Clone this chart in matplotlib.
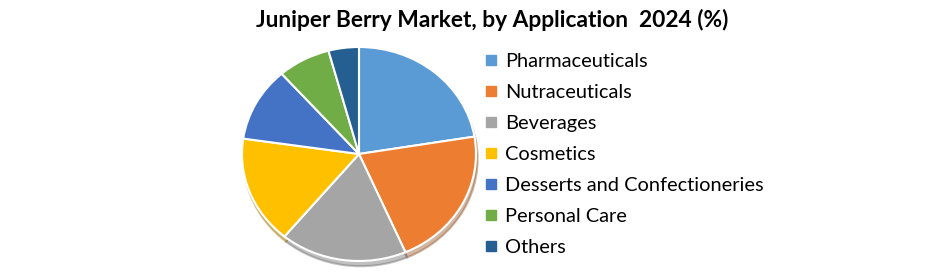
import matplotlib.pyplot as plt
from matplotlib.lines import Line2D

# データ
categories = ['Pharmaceuticals', 'Nutraceuticals', 'Beverages', 'Cosmetics',
              'Desserts and Confectioneries', 'Personal Care', 'Others']
shares = [22.4, 21.1, 17.5, 16.3, 11.2, 7.3, 4.2]
colors = ['#5B9BD5', '#ED7D31', '#A5A5A5', '#FFC000', '#4472C4', '#70AD47', '#255E91']
title = 'Juniper Berry Market, by Application  2024 (%)'

plt.rcParams['font.family'] = ['Lato', 'DejaVu Sans']

fig = plt.figure(figsize=(9.4, 2.79), dpi=100)

# 円グラフ(少し横長の楕円)
ax = fig.add_axes([242 / 940, 18 / 279, 234 / 940, 214 / 279])
ax.pie(shares, colors=colors, startangle=90, counterclock=False,
       wedgeprops=dict(edgecolor='white', linewidth=1.5),
       shadow=dict(ox=0.01, oy=-0.035, shade=0.4, alpha=0.4))
ax.set_aspect('auto')
ax.set_xlim(-1, 1)
ax.set_ylim(-1, 1)
ax.axis('off')

# 凡例
handles = [Line2D([], [], marker='s', ls='', ms=6.5, mfc=c, mec=c) for c in colors]
fig.legend(handles, categories, loc='upper left', bbox_to_anchor=(484 / 940, 1 - 53 / 279),
           frameon=False, fontsize=14.4, handlelength=0.7, handletextpad=0.35,
           labelspacing=0.7, borderaxespad=0, borderpad=0)

fig.text(492 / 940, 1 - 20 / 279, title, ha='center', va='center',
         fontsize=16.4, fontweight='bold')

fig.savefig('out.png', dpi=100)
